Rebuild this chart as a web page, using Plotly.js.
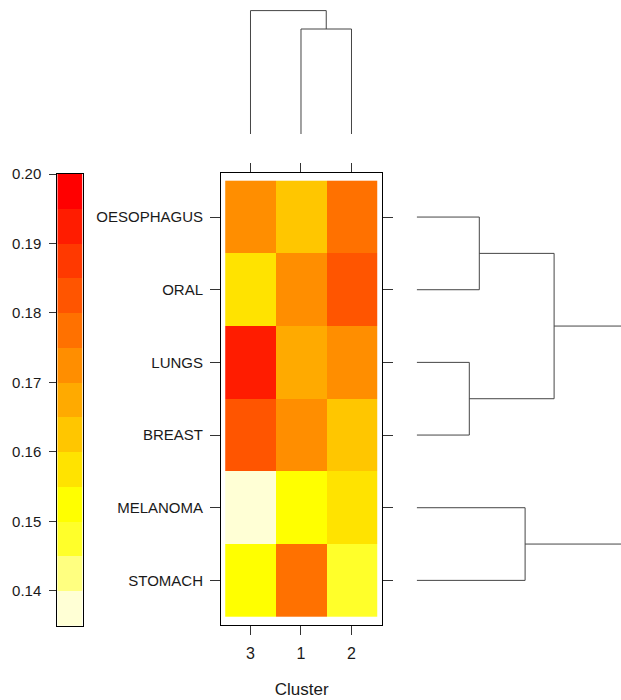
<!DOCTYPE html>
<html>
<head>
<meta charset="utf-8">
<script src="https://cdn.plot.ly/plotly-3.0.1.min.js"></script>
<style>html,body{margin:0;padding:0;background:#fff;}#chart{width:621px;height:700px;}</style>
</head>
<body>
<div id="chart"></div>
<script>
// ---- data ----
const colLabels = ['3', '1', '2'];
const rowLabels = ['OESOPHAGUS', 'ORAL', 'LUNGS', 'BREAST', 'MELANOMA', 'STOMACH'];
// values[row][col], columns in the order of colLabels
const valOesophagus = [0.1728, 0.1622, 0.1771];
const valOral       = [0.1574, 0.1727, 0.1823];
const valLungs      = [0.1926, 0.1676, 0.1724];
const valBreast     = [0.1822, 0.1729, 0.1626];
const valMelanoma   = [0.1373, 0.1527, 0.1577];
const valStomach    = [0.1524, 0.1772, 0.1478];

// colour key
const heatColors = ['#FFFFD5', '#FFFF80', '#FFFF2A', '#FFFF00', '#FFE300', '#FFC600',
                    '#FFAA00', '#FF8E00', '#FF7100', '#FF5500', '#FF3900', '#FF1C00', '#FF0000'];
const keyBreaks = [0.135, 0.140, 0.145, 0.150, 0.155, 0.160, 0.165, 0.170, 0.175, 0.180, 0.185, 0.190, 0.195, 0.200];
const keyTicks = [0.14, 0.15, 0.16, 0.17, 0.18, 0.19, 0.20];
const keyTickText = ['0.14', '0.15', '0.16', '0.17', '0.18', '0.19', '0.20'];

// column dendrogram (merge i is called 'N' + (i+1))
const colMergeLeft = ['1', '3'];
const colMergeRight = ['2', 'N1'];
const colMergeHeight = [0.0525, 0.0617];

// row dendrogram
const rowMergeLeft = ['OESOPHAGUS', 'LUNGS', 'MELANOMA', 'N1', 'N4'];
const rowMergeRight = ['ORAL', 'BREAST', 'STOMACH', 'N2', 'N3'];
const rowMergeHeight = [0.0313, 0.0263, 0.0542, 0.0687, 0.1200];

// ---- build ----
const zValues = [valOesophagus, valOral, valLungs, valBreast, valMelanoma, valStomach];
const zmin = keyBreaks[0], zmax = keyBreaks[keyBreaks.length - 1];
const colorscale = [];
heatColors.forEach((c, i) => {
  colorscale.push([i / heatColors.length, c]);
  colorscale.push([(i + 1) / heatColors.length, c]);
});
const keyLevels = [];
for (let i = 0; i < keyBreaks.length - 1; i++) keyLevels.push([(keyBreaks[i] + keyBreaks[i + 1]) / 2]);

function dendroSegments(leaves, left, right, heights) {
  const pos = {}, hgt = {};
  leaves.forEach((l, i) => { pos[l] = i; hgt[l] = 0; });
  const p = [], h = [];
  for (let i = 0; i < left.length; i++) {
    const a = left[i], b = right[i], id = 'N' + (i + 1);
    p.push(pos[a], pos[a], pos[b], pos[b], null);
    h.push(hgt[a], heights[i], heights[i], hgt[b], null);
    pos[id] = (pos[a] + pos[b]) / 2;
    hgt[id] = heights[i];
  }
  return {p, h};
}
const colD = dendroSegments(colLabels, colMergeLeft, colMergeRight, colMergeHeight);
const rowD = dendroSegments(rowLabels, rowMergeLeft, rowMergeRight, rowMergeHeight);

const W = 621, H = 700;
const fx = px => px / W;
const fy = px => 1 - px / H;
const FONT = 'Liberation Sans, Arial, sans-serif';
const TXT = '#1a1a1a';
const lineCol = '#454545';

const traces = [
  {
    type: 'heatmap', x: colLabels, y: rowLabels, z: zValues,
    zmin: zmin, zmax: zmax, colorscale: colorscale, showscale: false,
    xaxis: 'x', yaxis: 'y', hoverinfo: 'x+y+z'
  },
  {
    type: 'heatmap', x: [0], y: keyBreaks, z: keyLevels,
    zmin: zmin, zmax: zmax, colorscale: colorscale, showscale: false,
    xaxis: 'x2', yaxis: 'y2', hoverinfo: 'z'
  },
  {
    type: 'scatter', mode: 'lines', x: colD.p, y: colD.h,
    line: {color: lineCol, width: 1}, xaxis: 'x3', yaxis: 'y3', hoverinfo: 'skip'
  },
  {
    type: 'scatter', mode: 'lines', x: rowD.h, y: rowD.p,
    line: {color: lineCol, width: 1}, xaxis: 'x4', yaxis: 'y4', hoverinfo: 'skip'
  }
];

const hmX = [fx(221), fx(382.3)];
const hmY = [fy(625.3), fy(173.3)];
const xRange = [-0.584, 2.61];
const yRange = [5.618, -0.602];

const layout = {
  width: W, height: H,
  margin: {l: 0, r: 0, t: 0, b: 0},
  paper_bgcolor: '#fff', plot_bgcolor: 'rgba(0,0,0,0)',
  showlegend: false,
  font: {family: FONT, color: TXT},
  xaxis: {
    domain: hmX, anchor: 'y', type: 'category', categoryarray: colLabels, categoryorder: 'array',
    range: xRange, showgrid: false, zeroline: false,
    showline: true, linecolor: '#000', linewidth: 1, mirror: 'ticks',
    ticks: 'outside', ticklen: 9, tickcolor: '#333', tickwidth: 1,
    ticklabelstandoff: 4,
    tickfont: {family: FONT, size: 16, color: TXT},
    title: {text: 'Cluster', font: {family: FONT, size: 17, color: TXT}, standoff: 22},
    fixedrange: true
  },
  yaxis: {
    domain: hmY, anchor: 'x', type: 'category', categoryarray: rowLabels, categoryorder: 'array',
    range: yRange, showgrid: false, zeroline: false,
    showline: true, linecolor: '#000', linewidth: 1, mirror: 'ticks',
    ticks: 'outside', ticklen: 10, tickcolor: '#333', tickwidth: 1,
    ticklabelstandoff: 4,
    tickfont: {family: FONT, size: 15, color: TXT},
    fixedrange: true
  },
  xaxis2: {
    domain: [fx(57.3), fx(82.7)], anchor: 'y2', range: [-0.5, 0.5],
    showticklabels: false, ticks: '', showgrid: false, zeroline: false,
    showline: true, linecolor: '#000', linewidth: 1, mirror: true, fixedrange: true
  },
  yaxis2: {
    domain: [fy(625.7), fy(174)], anchor: 'x2', range: [zmin, zmax],
    tickvals: keyTicks, ticktext: keyTickText,
    ticks: 'outside', ticklen: 7, tickcolor: '#333', tickwidth: 1,
    ticklabelstandoff: 5,
    tickfont: {family: FONT, size: 15, color: TXT},
    showgrid: false, zeroline: false,
    showline: true, linecolor: '#000', linewidth: 1, mirror: true, fixedrange: true
  },
  xaxis3: {domain: hmX, anchor: 'y3', range: xRange, visible: false, fixedrange: true},
  yaxis3: {domain: [fy(134), fy(5)], anchor: 'x3', range: [0, 0.0645], visible: false, fixedrange: true},
  xaxis4: {domain: [fx(416.7), 1], anchor: 'y4', range: [0, 0.10215], visible: false, fixedrange: true},
  yaxis4: {domain: hmY, anchor: 'x4', range: yRange, visible: false, fixedrange: true}
};

Plotly.newPlot('chart', traces, layout, {staticPlot: true, displayModeBar: false});
</script>
</body>
</html>
